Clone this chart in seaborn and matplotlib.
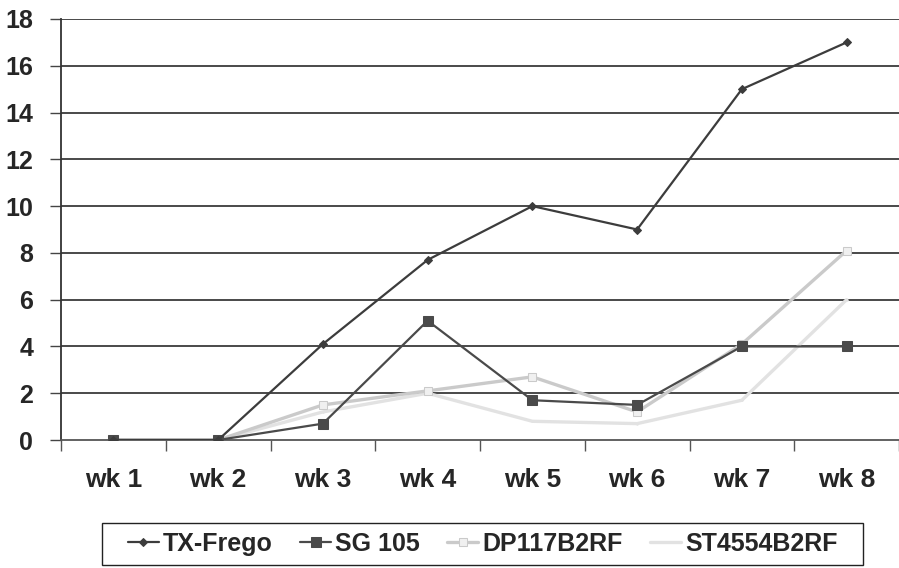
import matplotlib
matplotlib.use("Agg")
import matplotlib.pyplot as plt
import seaborn as sns
import pandas as pd
from matplotlib.ticker import FixedLocator
from matplotlib.patches import Rectangle

weeks = ["wk 1", "wk 2", "wk 3", "wk 4", "wk 5", "wk 6", "wk 7", "wk 8"]
tx_frego = [0, 0, 4.1, 7.7, 10.0, 9.0, 15.0, 17.0]
sg_105 = [0, 0, 0.7, 5.1, 1.7, 1.5, 4.0, 4.0]
dp117b2rf = [0, 0, 1.5, 2.1, 2.7, 1.2, 4.1, 8.1]
st4554b2rf = [0, 0, 1.2, 2.0, 0.8, 0.7, 1.7, 6.0]

series = {
    "TX-Frego": tx_frego,
    "SG 105": sg_105,
    "DP117B2RF": dp117b2rf,
    "ST4554B2RF": st4554b2rf,
}
rows = []
for name, vals in series.items():
    for i, (w, v) in enumerate(zip(weeks, vals)):
        rows.append({"pos": i, "week": w, "value": v, "variety": name})
df = pd.DataFrame(rows)

sns.set_theme(style="white")
plt.rcParams["font.family"] = ["Liberation Sans", "DejaVu Sans"]
plt.rcParams["font.weight"] = "bold"

palette = {"TX-Frego": "#3c3c3c", "SG 105": "#4a4a4a",
           "DP117B2RF": "#cacaca", "ST4554B2RF": "#e2e2e2"}
markers = {"TX-Frego": "D", "SG 105": "s", "DP117B2RF": "s", "ST4554B2RF": "o"}
msizes = {"TX-Frego": 4, "SG 105": 7, "DP117B2RF": 6, "ST4554B2RF": 1}
mfaces = {"TX-Frego": "#3c3c3c", "SG 105": "#4a4a4a",
          "DP117B2RF": "#f0f0f0", "ST4554B2RF": "#e2e2e2"}

W, H = 899, 568
fig = plt.figure(figsize=(W / 100, H / 100), dpi=100)
ax = fig.add_axes([61 / W, 1 - 440 / H, 1 - 61 / W, (440 - 19) / H])

# lighter series first so the darker ones sit on top
for name in ["ST4554B2RF", "DP117B2RF", "SG 105", "TX-Frego"]:
    sub = df[df["variety"] == name]
    dark = name in ("TX-Frego", "SG 105")
    sns.lineplot(data=sub, x="pos", y="value", ax=ax, color=palette[name],
                 marker=markers[name], markersize=msizes[name],
                 markerfacecolor=mfaces[name], markeredgecolor=palette[name],
                 linewidth=1.6 if dark else 2.4,
                 label=name, legend=False, zorder=3 if dark else 2)

ax.set_xlim(-0.5, 7.5)
ax.set_ylim(0, 18)
ax.set_yticks(range(0, 19, 2))
ax.set_yticklabels([str(v) for v in range(0, 19, 2)], fontsize=18, fontweight="bold")
ax.set_xticks(range(len(weeks)))
ax.set_xticklabels(weeks, fontsize=19, fontweight="bold")
ax.xaxis.set_minor_locator(FixedLocator([i + 0.5 for i in range(-1, 8)]))
ax.tick_params(axis="x", which="major", length=0, pad=20)
ax.tick_params(axis="x", which="minor", length=8, width=1, color="#555555", direction="out", bottom=True)
ax.tick_params(axis="y", length=8, width=1, color="#444444", direction="out", left=True, pad=12)
ax.set_xlabel("")
ax.set_ylabel("")

for y in range(2, 19, 2):
    ax.axhline(y, color="#3a3a3a", linewidth=1.3, zorder=1)

for side in ["top", "right"]:
    ax.spines[side].set_visible(False)
ax.spines["left"].set_color("#333333")
ax.spines["left"].set_linewidth(1.3)
ax.spines["bottom"].set_color("#555555")
ax.spines["bottom"].set_linewidth(1.3)

handles, labels = ax.get_legend_handles_labels()
order = ["TX-Frego", "SG 105", "DP117B2RF", "ST4554B2RF"]
hmap = dict(zip(labels, handles))
fig.legend([hmap[k] for k in order], order, loc="center",
           bbox_to_anchor=(482.5 / W, 1 - 544 / H), ncol=4, frameon=False,
           prop={"weight": "bold", "size": 18}, handlelength=1.25,
           handletextpad=0.15, columnspacing=1.1, borderpad=0.0,
           borderaxespad=0.0)
# legend border box
fig.patches.append(Rectangle((102 / W, 1 - 565 / H), (863 - 102) / W, (565 - 523) / H,
                             transform=fig.transFigure, fill=False,
                             edgecolor="#222222", linewidth=1.0))

fig.savefig("out.png", dpi=100, facecolor="white")
